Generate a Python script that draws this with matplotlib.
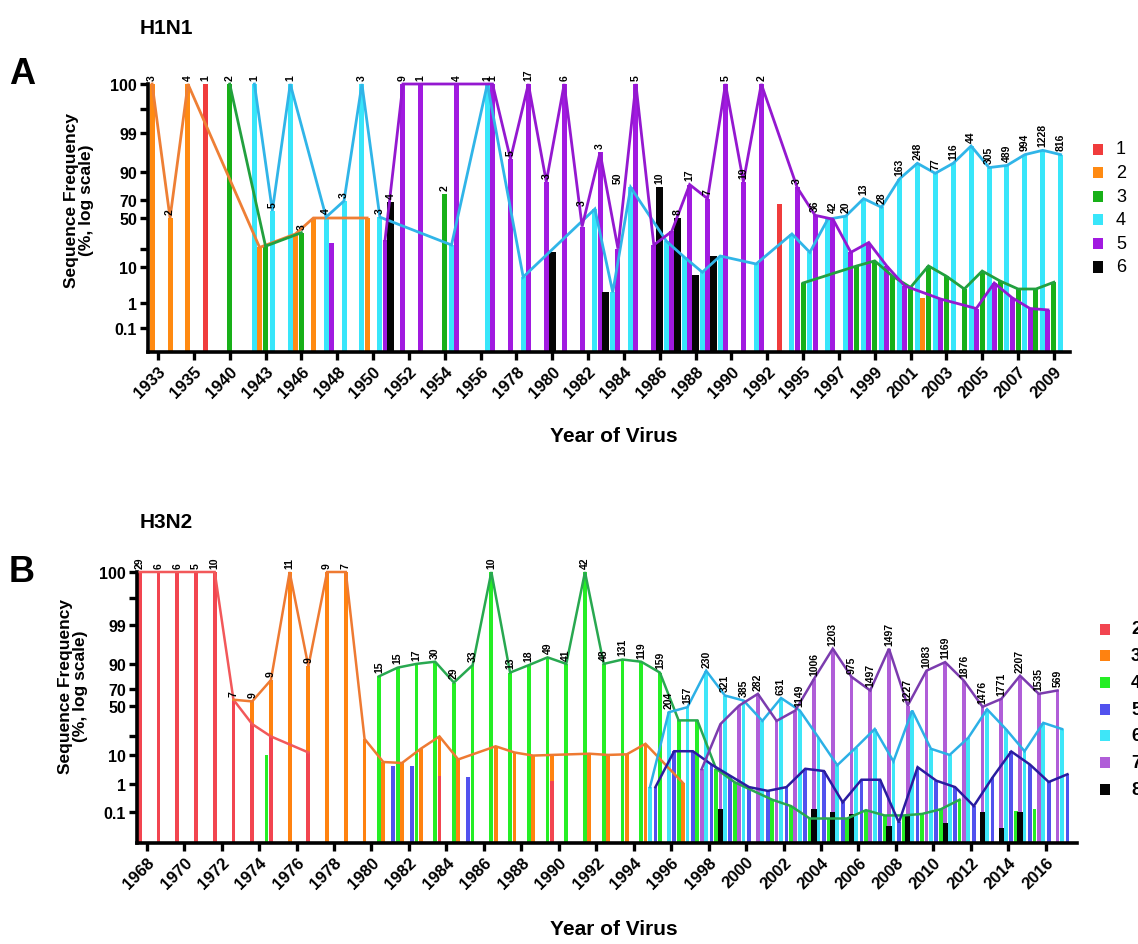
import numpy as np
import matplotlib
matplotlib.use("Agg")
import matplotlib.pyplot as plt
from matplotlib.patches import Rectangle

plt.rcParams['font.family'] = ['Liberation Sans', 'DejaVu Sans']

# ---- y axis: Prism-style stretched percent axis ----
ytick_vals = [0.1, 1, 10, 50, 70, 90, 99, 100]
knot_vals = [0, 0.1, 1, 10, 50, 70, 90, 99, 100, 120]
knots_A = [0, 0.0896, 0.183, 0.317, 0.5, 0.567, 0.672, 0.817, 1.0, 1.2]
knots_B = [0, 0.113, 0.218, 0.325, 0.507, 0.569, 0.661, 0.805, 1.0, 1.2]

# ---- H1N1 (panel A) ----
years_A = [1933, 1934, 1935, 1936, 1940, 1942, 1943, 1945, 1946, 1947, 1948, 1949,
           1950, 1951, 1952, 1953, 1954, 1955, 1956, 1977] + list(range(1978, 1994)) + list(range(1995, 2010))
xtick_labels_A = ['1933', '1935', '1940', '1943', '1946', '1948', '1950', '1952', '1954', '1956',
                  '1978', '1980', '1982', '1984', '1986', '1988', '1990', '1992', '1995', '1997',
                  '1999', '2001', '2003', '2005', '2007', '2009']

h1_red = {1936: 100, 1993: 66}
h1_orange = {1933: 100, 1934: 50, 1935: 100, 1943: 26, 1946: 37, 1947: 50, 1950: 50,
             2002: 2.3, 2003: 0.95}
h1_green = {1940: 100, 1943: 27, 1946: 38, 1954: 74, 1995: 6, 1998: 10.9, 1999: 15, 2000: 7.7,
            2001: 4.9, 2002: 10.9, 2003: 7.7, 2004: 4.5, 2005: 9, 2006: 6.5, 2007: 4.5,
            2008: 4.5, 2009: 6.2}
h1_cyan = {1942: 100, 1943: 58, 1945: 100, 1947: 51, 1948: 69, 1949: 100, 1950: 51, 1954: 28,
           1956: 100, 1978: 7.5, 1982: 60, 1983: 3.7, 1984: 79, 1986: 31, 1987: 18, 1988: 8.7,
           1989: 19, 1991: 12.5, 1993: 37, 1995: 22, 1996: 49, 1997: 52, 1998: 71, 1999: 62,
           2000: 85, 2001: 92, 2002: 89, 2003: 92, 2004: 96, 2005: 91, 2006: 91.5, 2007: 94,
           2008: 95, 2009: 94}
h1_purple = {1948: 30, 1951: 32, 1952: 100, 1953: 100, 1955: 100, 1977: 100, 1978: 93,
             1979: 100, 1980: 83, 1981: 100, 1982: 43, 1983: 94.5, 1984: 25, 1985: 100,
             1986: 28, 1987: 39, 1988: 81, 1989: 71, 1990: 100, 1991: 83, 1992: 100,
             1995: 79, 1996: 53, 1997: 49, 1998: 22, 1999: 30, 2000: 10.9, 2001: 5.3,
             2003: 2, 2005: 0.8, 2006: 6, 2007: 2.3, 2008: 0.8, 2009: 0.75}
h1_black = {1951: 68, 1980: 22, 1983: 3.7, 1986: 79, 1987: 50, 1988: 8, 1989: 19}

h1_lines = [('orange', 1933, 1950), ('green', 1940, 1946), ('green', 1995, 2009),
            ('cyan', 1942, 2009), ('purple', 1951, 2009)]

h1_counts = [(1933, 'orange', '3'), (1934, 'orange', '2'), (1935, 'orange', '4'), (1936, 'red', '1'),
             (1940, 'green', '2'), (1942, 'cyan', '1'), (1943, 'cyan', '5'), (1945, 'cyan', '1'),
             (1946, 'green', '3'), (1947, 'cyan', '4'), (1948, 'cyan', '3'), (1949, 'cyan', '3'),
             (1950, 'cyan', '3'), (1951, 'black', '4'), (1952, 'purple', '9'), (1953, 'purple', '1'),
             (1954, 'green', '2'), (1955, 'purple', '4'), (1956, 'cyan', '1'), (1977, 'purple', '1'),
             (1978, 'purple', '5'), (1979, 'purple', '17'), (1980, 'purple', '3'), (1981, 'purple', '6'),
             (1982, 'purple', '3'), (1983, 'purple', '3'), (1984, 'purple', '50'), (1985, 'purple', '5'),
             (1986, 'black', '10'), (1987, 'black', '8'), (1988, 'purple', '17'), (1989, 'purple', '7'),
             (1990, 'purple', '5'), (1991, 'purple', '19'), (1992, 'purple', '2'), (1995, 'purple', '3'),
             (1996, 'purple', '36'), (1997, 'purple', '42'), (1997, 'cyan', '20'), (1998, 'cyan', '13'),
             (1999, 'cyan', '28'), (2000, 'cyan', '163'), (2001, 'cyan', '248'), (2002, 'cyan', '77'),
             (2003, 'cyan', '116'), (2004, 'cyan', '44'), (2005, 'cyan', '305'), (2006, 'cyan', '489'),
             (2007, 'cyan', '994'), (2008, 'cyan', '1228'), (2009, 'cyan', '816')]

# ---- H3N2 (panel B) ----
years_B = list(range(1968, 2018))
xtick_labels_B = [str(y) for y in range(1968, 2017, 2)]

h3_red = {1968: 100, 1969: 100, 1970: 100, 1971: 100, 1972: 100, 1973: 57, 1974: 35,
          1975: 25, 1977: 12, 1984: 3.5, 1990: 2}
h3_orange = {1973: 57, 1974: 55, 1975: 77, 1976: 100, 1977: 88, 1978: 100, 1979: 100,
             1980: 23, 1981: 7.8, 1982: 7.5, 1983: 15, 1984: 25, 1985: 8.6, 1987: 17,
             1988: 12, 1989: 9.8, 1990: 10, 1992: 11, 1993: 10, 1994: 10.5, 1995: 19, 1997: 1.3}
h3_green = {1974: 10, 1980: 80, 1981: 87, 1982: 90, 1983: 90.5, 1984: 75, 1985: 89, 1986: 100,
            1987: 83, 1988: 89, 1989: 91.5, 1990: 90, 1991: 100, 1992: 90, 1993: 91, 1994: 90.5,
            1995: 83, 1996: 38, 1997: 38, 1998: 5.7, 1999: 1.5, 2001: 0.5, 2002: 0.3,
            2003: 0.08, 2004: 0.08, 2005: 0.08, 2006: 0.17, 2007: 0.09, 2008: 0.09,
            2009: 0.095, 2010: 0.2, 2011: 0.5, 2014: 0.14, 2015: 0.2}
h3_blue = {1981: 6.6, 1982: 6.6, 1985: 3.2, 1995: 0.9, 1996: 13, 1997: 13, 1998: 7, 1999: 3.5,
           2000: 0.9, 2001: 0.78, 2002: 0.9, 2003: 5.7, 2004: 5, 2005: 0.42, 2006: 2.3,
           2007: 2.3, 2008: 0.067, 2009: 6.2, 2010: 2, 2011: 0.9, 2012: 0.3, 2013: 3,
           2014: 12.8, 2015: 7, 2016: 1.6, 2017: 4}
h3_cyan = {1995: 0.9, 1996: 44.6, 1997: 48.7, 1998: 84.5, 1999: 62, 2000: 56, 2001: 37.6,
           2002: 59, 2003: 46, 2004: 24, 2005: 6.8, 2006: 16, 2007: 31, 2008: 8, 2009: 46,
           2010: 15, 2011: 10, 2012: 24, 2013: 47, 2014: 31, 2015: 13, 2016: 36, 2017: 31}
h3_purple = {1998: 5.6, 1999: 35, 2000: 50, 2001: 64, 2002: 37.6, 2003: 46, 2004: 78,
             2005: 93.5, 2006: 79.6, 2007: 68, 2008: 93.5, 2009: 50, 2010: 84.5, 2011: 90.4,
             2012: 76.5, 2013: 49, 2014: 58, 2015: 80.5, 2016: 64, 2017: 68}
h3_black = {1999: 0.2, 2004: 0.2, 2005: 0.1, 2006: 0.095, 2008: 0.057, 2009: 0.095,
            2011: 0.065, 2013: 0.1, 2014: 0.05, 2015: 0.1}

h3_lines = [('red', 1968, 1977), ('orange', 1973, 1997), ('green', 1980, 2011),
            ('blue', 1995, 2017), ('cyan', 1995, 2017), ('purple', 1998, 2017)]

h3_counts = ['29', '6', '6', '5', '10', '7', '9', '9', '11', '9', '9', '7',
             '15', '15', '17', '30', '29', '33', '10', '13', '18', '49', '41', '42', '48',
             '131', '119', '159', '204', '157', '230', '321', '385', '282', '631', '1149',
             '1006', '1203', '975', '1497', '1497', '1227', '1083', '1169', '1876', '1476',
             '1771', '2207', '1535', '569']

# ---- styles ----
A_bar = {'red': '#F03C3C', 'orange': '#FF8A12', 'green': '#18B018', 'cyan': '#38E6FA',
         'purple': '#A11AE0', 'black': '#050505'}
A_line = {'orange': '#EE7F35', 'green': '#22A03E', 'cyan': '#30B5E8', 'purple': '#9418D0'}
A_slot = {'red': -0.33, 'orange': -0.33, 'purple': -0.33, 'green': 0.0, 'black': 0.0, 'cyan': 0.38}

B_bar = {'red': '#F24550', 'orange': '#FF8210', 'green': '#25EE25', 'blue': '#5252EE',
         'cyan': '#3EE6F8', 'purple': '#B05ED8', 'black': '#050505'}
B_line = {'red': '#F2585A', 'orange': '#EE7A32', 'green': '#28A850', 'blue': '#2A1CA0',
          'cyan': '#2CB0E6', 'purple': '#7B3CAE'}
B_slot = {'red': -0.37, 'orange': -0.37, 'purple': -0.37, 'black': -0.37,
          'cyan': -0.13, 'blue': 0.16, 'green': 0.40}


def draw_panel(ax, years, series, slot, bar_col, line_col, lines, knots, bw, lw):
    pos = {y: i for i, y in enumerate(years)}
    ax.set_yscale('function', functions=(lambda v: np.interp(v, knot_vals, knots),
                                         lambda p: np.interp(p, knots, knot_vals)))
    for name, d in series:
        xs = [pos[y] + slot[name] for y in d]
        w = bw * 1.4 if name == 'black' else bw
        ax.bar(xs, list(d.values()), width=w, color=bar_col[name], linewidth=0, zorder=2)
    sd = dict(series)
    for name, y0, y1 in lines:
        pts = [(pos[y] + slot[name], v) for y, v in sd[name].items() if y0 <= y <= y1]
        xs, vs = zip(*pts)
        ax.plot(xs, vs, color=line_col[name], lw=lw, zorder=3, clip_on=False,
                solid_joinstyle='miter')
    ax.set_ylim(0, 100)
    ax.set_yticks(ytick_vals + [99.5, 25])
    ax.set_yticklabels(['0.1', '1', '10', '50', '70', '90', '99', '100', '', ''],
                       fontsize=11.5, fontweight='bold')
    ax.minorticks_off()
    for s in ['top', 'right']:
        ax.spines[s].set_visible(False)
    for s in ['left', 'bottom']:
        ax.spines[s].set_linewidth(2.6)
    ax.tick_params(axis='both', width=2.4, length=6, pad=2)
    return pos


def put_count(ax, x, v, text):
    ax.annotate(text, (x, v), xytext=(0, 3), textcoords='offset points', rotation=90,
                ha='center', va='bottom', fontsize=7.5, fontweight='bold', annotation_clip=False)


fig = plt.figure(figsize=(11.38, 9.45), dpi=100)
W, H = 1138, 945

# Panel A
axA = fig.add_axes([148 / W, 1 - 353 / H, 922 / W, 268 / H])
seriesA = [('orange', h1_orange), ('green', h1_green), ('cyan', h1_cyan), ('purple', h1_purple),
           ('red', h1_red), ('black', h1_black)]
posA = draw_panel(axA, years_A, seriesA, A_slot, A_bar, A_line, h1_lines, knots_A, 0.28, 2.0)
axA.set_xlim(-0.56, 50.9)
axA.set_xticks(range(0, len(years_A), 2))
axA.set_xticklabels(xtick_labels_A, rotation=45, ha='right', rotation_mode='anchor',
                    fontsize=12, fontweight='bold')
dA = dict(seriesA)
for y, name, t in h1_counts:
    top = max(d.get(y, 0) for d in dA.values())
    put_count(axA, posA[y] + A_slot[name], top, t)

# Panel B
axB = fig.add_axes([137 / W, 1 - 844 / H, 940 / W, 271 / H])
seriesB = [('orange', h3_orange), ('green', h3_green), ('blue', h3_blue), ('cyan', h3_cyan),
           ('purple', h3_purple), ('red', h3_red), ('black', h3_black)]
posB = draw_panel(axB, years_B, seriesB, B_slot, B_bar, B_line, h3_lines, knots_B, 0.2, 1.8)
axB.set_xlim(-0.52, 49.67)
axB.set_xticks(range(0, len(years_B) - 1, 2))
axB.set_xticklabels(xtick_labels_B, rotation=45, ha='right', rotation_mode='anchor',
                    fontsize=12, fontweight='bold')
legend_order_B = ['red', 'orange', 'green', 'blue', 'cyan', 'purple', 'black']
dB = dict(seriesB)
for i, y in enumerate(years_B):
    vals = [dB[c].get(y, 0) for c in legend_order_B]
    k = int(np.argmax(vals))
    put_count(axB, posB[y] + B_slot[legend_order_B[k]], vals[k], h3_counts[i])

# titles, panel letters, axis titles
fig.text(140 / W, 1 - 28 / H, 'H1N1', fontsize=15, fontweight='bold', va='center')
fig.text(140 / W, 1 - 522 / H, 'H3N2', fontsize=15, fontweight='bold', va='center')
fig.text(9 / W, 1 - 75 / H, 'A', fontsize=26, fontweight='bold', va='center')
fig.text(9 / W, 1 - 572 / H, 'B', fontsize=26, fontweight='bold', va='center')
for cx, cy in [(79, 200), (73, 686)]:
    fig.text(cx / W, 1 - cy / H, 'Sequence Frequency\n(%, log scale)', rotation=90,
             ha='center', va='center', multialignment='center', fontsize=12.5,
             fontweight='bold', linespacing=1.05)
for cy in [437, 930]:
    fig.text(614 / W, 1 - cy / H, 'Year of Virus', ha='center', va='center',
             fontsize=15, fontweight='bold')

# legends (the H3N2 labels run off the right edge, as in the source figure)
legA = [('1', 'red'), ('2', 'orange'), ('3', 'green'), ('4', 'cyan'), ('5', 'purple'), ('6', 'black')]
for i, (lab, c) in enumerate(legA):
    cy = 150 + i * 23.6
    fig.add_artist(Rectangle((1093 / W, 1 - (cy + 5.5) / H), 10 / W, 11 / H,
                             transform=fig.transFigure, color=A_bar[c], lw=0))
    fig.text(1116 / W, 1 - cy / H, lab, fontsize=13, va='center')
legB = [('2', 'red'), ('3', 'orange'), ('4', 'green'), ('5', 'blue'), ('6', 'cyan'),
        ('7', 'purple'), ('8', 'black')]
for i, (lab, c) in enumerate(legB):
    cy = 630 + i * 26.7
    fig.add_artist(Rectangle((1100 / W, 1 - (cy + 5.5) / H), 10 / W, 11 / H,
                             transform=fig.transFigure, color=B_bar[c], lw=0))
    fig.text(1131 / W, 1 - cy / H, lab, fontsize=13, fontweight='bold', va='center')

fig.savefig('out.png', dpi=100)
